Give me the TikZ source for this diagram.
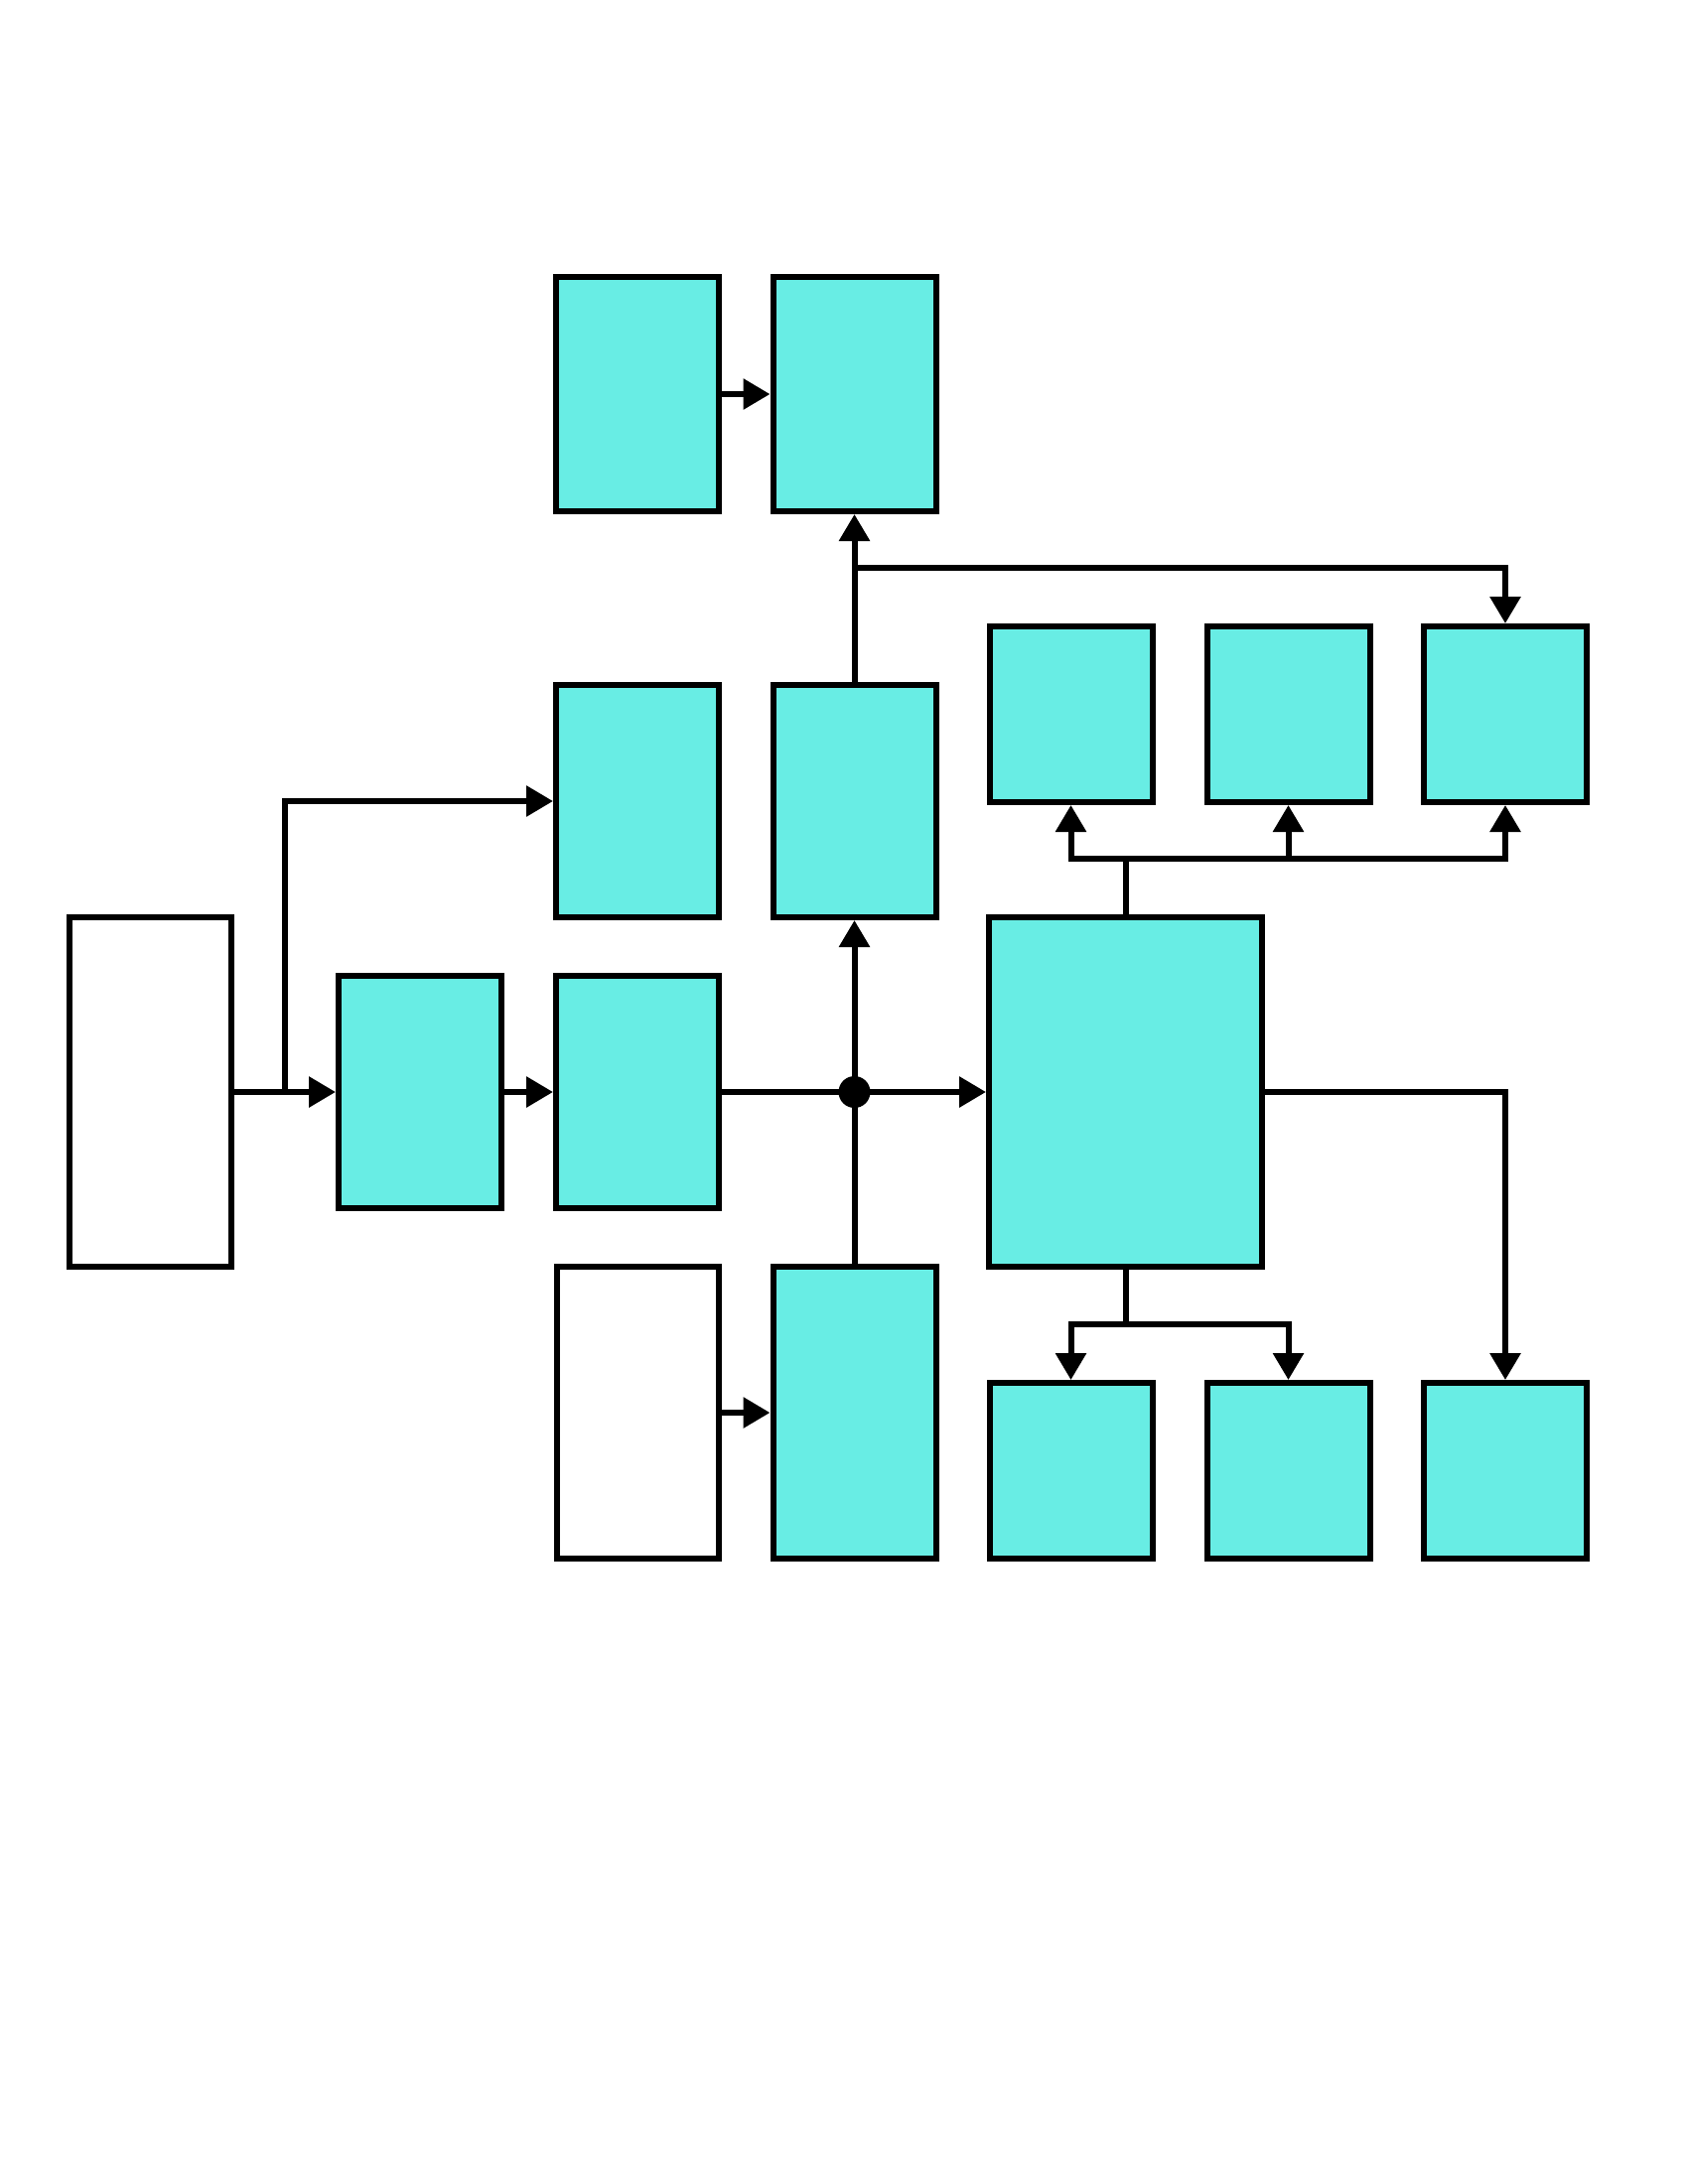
\documentclass[tikz,border=0pt]{standalone}
\usetikzlibrary{arrows.meta}
\definecolor{boxcyan}{RGB}{104,237,228}
\begin{document}
\begin{tikzpicture}[x=0.1mm,y=-0.1mm,line width=0.6mm,
    blk/.style={draw,fill=boxcyan,inner sep=0pt,minimum width=16.4mm,minimum height=23.4mm},
    wht/.style={draw,fill=white,inner sep=0pt,minimum width=16.3mm},
    sq/.style={blk,minimum height=17.7mm},
    >={Triangle[length=2.7mm,width=3mm]}]
  \useasboundingbox (0,0) rectangle (1700,2200);
  % boxes
  \node[wht,minimum height=35.2mm] (In) at (151.5,1100) {};
  \node[blk] (E) at (423,1100) {};
  \node[blk] (F) at (642,1100) {};
  \node[blk,minimum height=23.6mm] (A) at (642,397) {};
  \node[blk,minimum height=23.6mm] (B) at (860.5,397) {};
  \node[blk] (C) at (642,807) {};
  \node[blk] (D) at (860.5,807) {};
  \node[wht,minimum height=29.4mm] (G) at (642,1423) {};
  \node[blk,minimum height=29.4mm] (H) at (860.5,1423) {};
  \node[blk,minimum width=27.5mm,minimum height=35.2mm] (M) at (1133.5,1100) {};
  \node[sq] (T1) at (1078.5,719.5) {};
  \node[sq] (T2) at (1297.5,719.5) {};
  \node[sq] (T3) at (1516,719.5) {};
  \node[sq] (L1) at (1078.5,1481.5) {};
  \node[sq] (L2) at (1297.5,1481.5) {};
  \node[sq] (L3) at (1516,1481.5) {};
  % branch points
  \coordinate (J) at (860.5,1100);
  \coordinate (s) at (287,1100);
  \coordinate (k) at (860.5,572);
  \coordinate (u) at (1133.5,865);
  \coordinate (d) at (1133.5,1334);
  % connectors
  \draw[->] (In.east) -- (E.west);
  \draw[->] (s) |- (C.west);
  \draw[->] (E) -- (F);
  \draw (F.east) -- (J);
  \draw[->] (J) -- (M.west);
  \draw[->] (J) -- (D.south);
  \draw (H.north) -- (J);
  \node[fill=black,inner sep=0pt,shape=circle,minimum size=3.2mm] (dot) at (J) {};
  \draw[->] (D.north) -- (B.south);
  \draw[->] (k) -| (T3.north);
  \draw[->] (A) -- (B);
  \draw[->] (G) -- (H);
  \draw (M.north) -- (u);
  \draw[->] (u) -| (T1.south);
  \draw[->] (u) -| (T3.south);
  \draw[->] (T2.south |- u) -- (T2.south);
  \draw (M.south) -- (d);
  \draw[->] (d) -| (L1.north);
  \draw[->] (d) -| (L2.north);
  \draw[->] (M.east) -| (L3.north);
\end{tikzpicture}
\end{document}
